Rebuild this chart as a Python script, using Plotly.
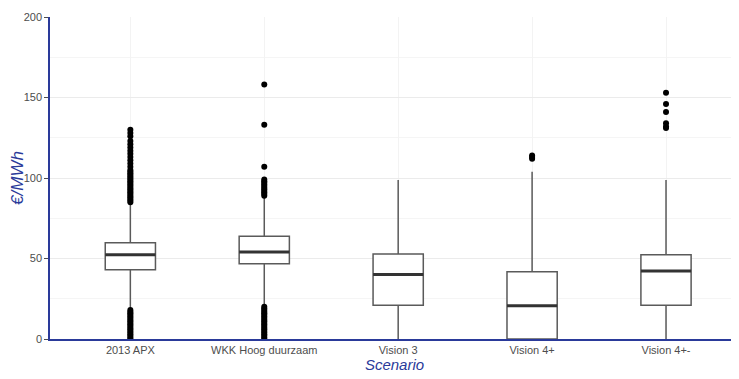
import plotly.graph_objects as go

categories = ["2013 APX", "WKK Hoog duurzaam", "Vision 3", "Vision 4+", "Vision 4+-"]
q1 = [43.0, 46.8, 20.9, 0.0, 20.9]
median = [52.4, 54.0, 40.0, 20.7, 42.2]
q3 = [59.8, 63.8, 52.8, 41.8, 52.4]
lower_whisker = [18.5, 21.0, 0.0, 0.0, 0.0]
upper_whisker = [84.5, 88.5, 98.8, 103.9, 98.8]

outliers = {
    "2013 APX": [0, 1, 2, 3, 4, 5, 6, 7, 8, 9, 10, 11, 12, 13, 14, 15, 16, 17, 18,
                 85, 86, 87, 88, 89, 90, 91, 92, 93, 94, 95, 96, 97, 98, 99, 100,
                 101, 102, 103, 104, 105, 107, 109, 111, 113, 115, 117, 119, 121,
                 123, 126, 128, 130],
    "WKK Hoog duurzaam": [0, 1, 2, 3, 4, 5, 6, 7, 8, 9, 10, 11, 12, 13, 14, 15, 16,
                          17, 18, 19, 20, 89, 90, 91, 92, 93, 94, 95, 96, 97, 98,
                          99, 107, 133, 158],
    "Vision 3": [],
    "Vision 4+": [112, 113, 114],
    "Vision 4+-": [131, 132, 134, 141, 146, 153],
}

y_ticks = [0, 50, 100, 150, 200]

positions = list(range(len(categories)))
box_w = 0.375

fig = go.Figure()
fig.add_trace(go.Box(
    x=positions, q1=q1, median=median, q3=q3,
    lowerfence=lower_whisker, upperfence=upper_whisker,
    width=box_w, boxpoints=False,
    fillcolor="white", line=dict(color="#5a5a5a", width=1.5),
    whiskerwidth=0, showlegend=False, hoverinfo="skip",
))

# thicker median bars
mx, my = [], []
for p, m in zip(positions, median):
    mx += [p - box_w / 2, p + box_w / 2, None]
    my += [m, m, None]
fig.add_trace(go.Scatter(x=mx, y=my, mode="lines",
                         line=dict(color="#333333", width=3),
                         showlegend=False, hoverinfo="skip"))

ox, oy = [], []
for p, c in zip(positions, categories):
    for v in outliers[c]:
        ox.append(p)
        oy.append(v)
fig.add_trace(go.Scatter(x=ox, y=oy, mode="markers",
                         marker=dict(color="black", size=6),
                         showlegend=False, hoverinfo="skip"))

axis_blue = "#2a3a9a"
fig.update_layout(
    width=731, height=371,
    margin=dict(l=42, r=0, t=9, b=40),
    plot_bgcolor="white", paper_bgcolor="white",
    font=dict(family="Liberation Sans, Arial, sans-serif", size=11, color="#4d4d4d"),
    xaxis=dict(
        range=[-0.6, 4.545], tickvals=positions, ticktext=categories,
        showgrid=True, gridcolor="#f3f3f3", gridwidth=1,
        showline=True, linecolor=axis_blue, linewidth=1.5,
        ticks="", zeroline=False,
        tickfont=dict(size=11, color="#4d4d4d"),
        title=dict(text="Scenario", font=dict(size=15, color=axis_blue, style="italic"), standoff=0),
    ),
    yaxis=dict(
        range=[0, 200], tickvals=y_ticks,
        showgrid=True, gridcolor="#ebebeb", gridwidth=1,
        minor=dict(dtick=25, showgrid=True, gridcolor="#f5f5f5", gridwidth=1),
        showline=True, linecolor=axis_blue, linewidth=1.5,
        ticks="outside", ticklen=4, tickcolor="#4d4d4d",
        zeroline=False,
        tickfont=dict(size=11, color="#4d4d4d"),
        title=dict(text="€/MWh", font=dict(size=17, color=axis_blue, style="italic"), standoff=4),
    ),
)

fig.write_html("out.html")
